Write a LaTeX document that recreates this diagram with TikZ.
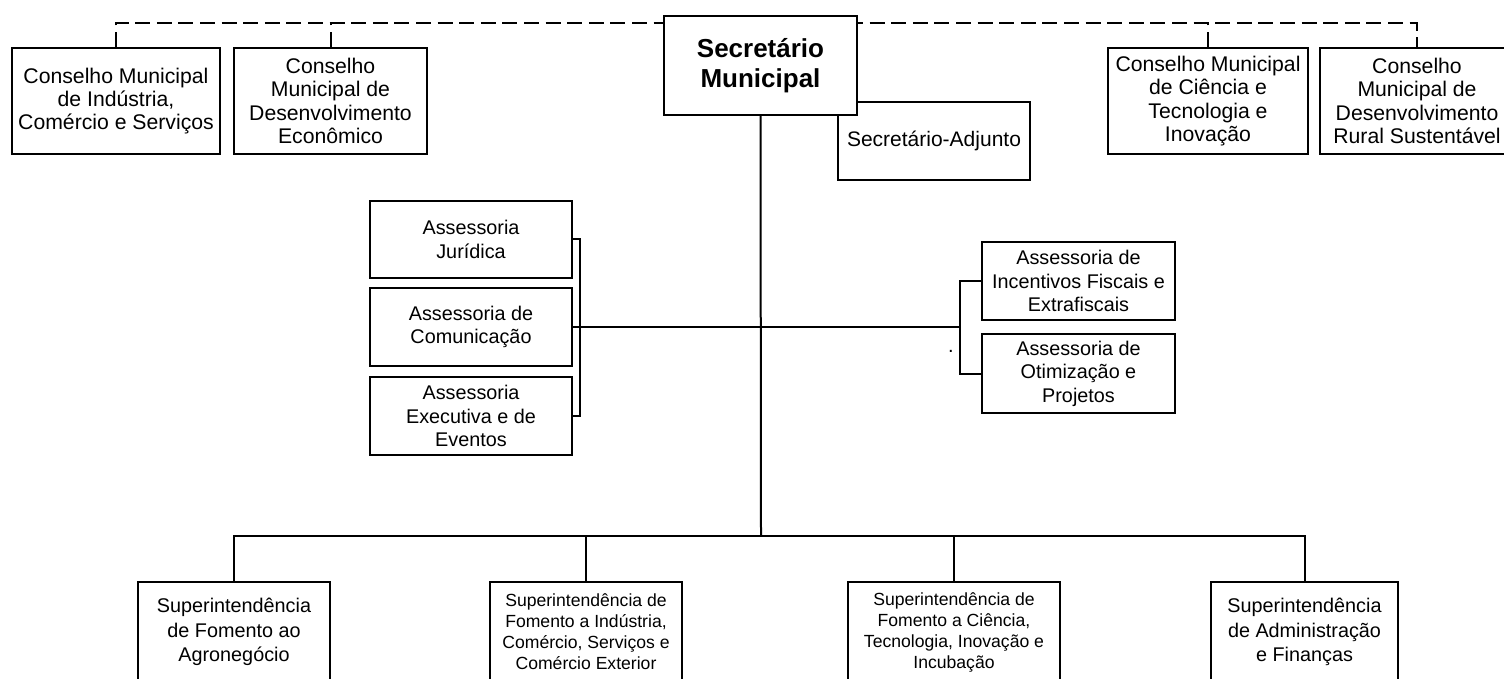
\documentclass[tikz,border=0pt]{standalone}
\usepackage{fontspec}
\setmainfont{Liberation Sans}
\usetikzlibrary{backgrounds}
\begin{document}
\begin{tikzpicture}[x=0.5pt,y=-0.5pt,
  box/.style={draw, fill=white, line width=1pt, align=center, inner sep=0pt},
  lnk/.style={line width=1pt},
  dsh/.style={line width=1pt, dash pattern=on 7.5pt off 3.3pt},
  fc/.style={font=\fontsize{10.6}{11.7}\selectfont},
  fa/.style={font=\fontsize{9.9}{11.7}\selectfont},
  fsb/.style={font=\fontsize{9.9}{12.2}\selectfont},
  fss/.style={font=\fontsize{8.8}{10.5}\selectfont}]
\useasboundingbox (0,0) rectangle (1504,679);
\clip (0,0) rectangle (1504,679);

% Councils
\node[box, fc, minimum width=104pt, minimum height=53pt] (c1) at (116,101) {Conselho Municipal\\de Indústria,\\Comércio e Serviços};
\node[box, fc, minimum width=96.5pt, minimum height=53pt] (c2) at (330.5,101) {Conselho\\Municipal de\\Desenvolvimento\\Econômico};
\node[box, fc, minimum width=100pt, minimum height=53pt] (c3) at (1208,101) {Conselho Municipal\\de Ciência e\\Tecnologia e\\Inovação};
\node[box, fc, minimum width=97pt, minimum height=53pt] (c4) at (1417,101) {Conselho\\Municipal de\\Desenvolvimento\\Rural Sustentável};

% Top
\node[box, font=\fontsize{10.5}{12}\selectfont, minimum width=96pt, minimum height=39pt] (adj) at (934,141) {Secretário-Adjunto};
\node[box, font=\fontsize{13}{15}\selectfont\bfseries, minimum width=96.5pt, minimum height=49.5pt] (sec) at (760.5,65.5) {Secretário\\Municipal};

% Assessorias
\node[box, fa, minimum width=101pt, minimum height=38.5pt] (aj) at (471,239.5) {Assessoria\\Jurídica};
\node[box, fa, minimum width=101pt, minimum height=39pt] (ac) at (471,327) {Assessoria de\\Comunicação};
\node[box, fa, minimum width=101pt, minimum height=39pt] (ae) at (471,416) {Assessoria\\Executiva e de\\Eventos};
\node[box, fa, minimum width=96.5pt, minimum height=39pt] (ai) at (1078.5,281) {Assessoria de\\Incentivos Fiscais e\\Extrafiscais};
\node[box, fa, minimum width=96.5pt, minimum height=39.5pt] (ao) at (1078.5,373.5) {Assessoria de\\Otimização e\\Projetos};
\node[font=\fontsize{10}{12}\selectfont, anchor=base, inner sep=0pt] (dot) at (951,352) {.};

% Superintendencias
\node[box, fsb, minimum width=96pt, minimum height=50pt] (s1) at (234,632) {Superintendência\\de Fomento ao\\Agronegócio};
\node[box, fss, minimum width=96pt, minimum height=50pt] (s2) at (586,632) {Superintendência de\\Fomento a Indústria,\\Comércio, Serviços e\\Comércio Exterior};
\node[box, fss, minimum width=106pt, minimum height=50pt] (s3) at (954,632) {Superintendência de\\Fomento a Ciência,\\Tecnologia, Inovação e\\Incubação};
\node[box, fsb, minimum width=93.5pt, minimum height=50pt] (s4) at (1304.5,632) {Superintendência\\de Administração\\e Finanças};

\coordinate (bus) at (761,536);
\coordinate (top) at (761,23);
\coordinate (rb) at (961,327);

\begin{pgfonlayer}{background}
  \draw[dsh] (c1.north) -- (c1.north |- top) -| (c4.north);
  \draw[dsh] (c2.north) -- (c2.north |- top);
  \draw[dsh] (c3.north) -- (c3.north |- top);
  \draw[lnk] (sec.south) -- (bus);
  \draw[lnk] (s1.north) -- (s1.north |- bus) -| (s4.north);
  \draw[lnk] (s2.north) -- (s2.north |- bus);
  \draw[lnk] (s3.north) -- (s3.north |- bus);
  \draw[lnk] (aj.east) -- ++(7,0) |- (ae.east);
  \draw[lnk] (ac.east) -- (rb);
  \draw[lnk] (ai.west) -- ++(-21,0) |- (ao.west);
\end{pgfonlayer}
\end{tikzpicture}
\end{document}
